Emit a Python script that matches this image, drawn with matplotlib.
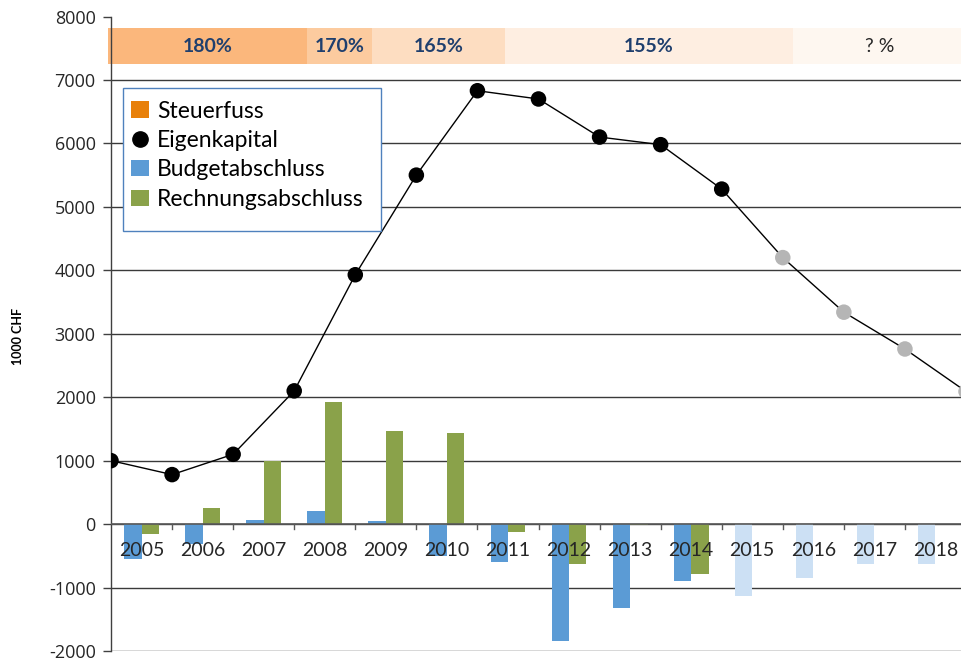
import matplotlib
matplotlib.use("Agg")
import matplotlib.pyplot as plt
from matplotlib.patches import Patch, Rectangle
from matplotlib.lines import Line2D
import numpy as np

plt.rcParams["axes.unicode_minus"] = False

years = [2005, 2006, 2007, 2008, 2009, 2010, 2011, 2012, 2013, 2014, 2015, 2016, 2017, 2018]
budget = [-550, -320, 60, 200, 50, -500, -600, -1850, -1330, -900, -1130, -850, -630, -630]
rechnung = [-160, 250, 1000, 1920, 1470, 1440, -130, -630, -15, -790, np.nan, np.nan, np.nan, np.nan]
forecast = [False]*10 + [True]*4
eigenkapital = [1000, 780, 1100, 2100, 3930, 5500, 6830, 6700, 6100, 5980, 5280, 4200, 3340, 2760, 2090]
ek_forecast = [False]*11 + [True]*4
steuer_labels = ["180%", "170%", "165%", "155%", "? %"]
steuer_spans = [3.21, 1.07, 2.17, 4.71, 2.84]

c_budget = "#5B9BD5"
c_budget_fc = "#CCE0F4"
c_rech = "#8AA24A"
c_steuer = "#E8800A"
band_colors = ["#FBB77C", "#FCCB9F", "#FDDDC1", "#FEEEE1", "#FEF7F0"]
band_text = ["#1F3F6E", "#1F3F6E", "#1F3F6E", "#1F3F6E", "#262626"]
band_weight = ["bold", "bold", "bold", "bold", "normal"]

W, H = 961, 660
fig = plt.figure(figsize=(W/100, H/100), dpi=100)
left_px, right_px = 111, 966
top_px, bot_px = 16.5, 651
ax = fig.add_axes([left_px/W, (H-bot_px)/H, (right_px-left_px)/W, (bot_px-top_px)/H])

n = len(years)
ax.set_xlim(0, n)
ax.set_ylim(-2000, 8000)

for v in range(-2000, 8000, 1000):
    ax.axhline(v, color="#3a3a3a", lw=1.0, zorder=1)

centers = np.arange(n) + 0.5
bw = 0.285
bcols = [c_budget_fc if f else c_budget for f in forecast]
ax.bar(centers - bw/2, budget, width=bw, color=bcols, zorder=2)
ax.bar(centers + bw/2, rechnung, width=bw, color=c_rech, zorder=2)

# tax band
spans = list(steuer_spans)
lefts = np.concatenate([[0.0], np.cumsum(steuer_spans)[:-1]])
spans[0] += 0.05
lefts[0] = -0.05
ax.barh(7535, spans, left=lefts, height=570, color=band_colors, zorder=2, clip_on=False)
for l, s, lab, tc, fw in zip(lefts, spans, steuer_labels, band_text, band_weight):
    ax.text(l + s/2, 7535, lab, ha="center", va="center", fontsize=14,
            fontweight=fw, color=tc, family="Lato", zorder=5)

# Eigenkapital line
xb = np.arange(len(eigenkapital))
ax.plot(xb, eigenkapital, color="black", lw=1.0, zorder=3)
mcol = ["#B5B5B5" if f else "black" for f in ek_forecast]
ax.scatter(xb, eigenkapital, s=125, c=mcol, zorder=4, edgecolors="none")

for sp in ["top", "right", "bottom"]:
    ax.spines[sp].set_visible(False)
ax.spines["left"].set_color("#404040")
ax.spines["left"].set_linewidth(1.0)
ax.set_yticks(range(-2000, 8001, 1000))
ax.tick_params(axis="y", direction="out", length=6, width=1, color="#404040",
               labelsize=13, labelcolor="#262626", pad=5)
for t in ax.get_yticklabels():
    t.set_family("Open Sans")
ax.set_xticks([])
ax.axhline(0, color="#595959", lw=1.2, zorder=3)
for b in range(1, n):
    ax.plot([b, b], [0, -80], color="#595959", lw=1.0, zorder=3, clip_on=False)
for c, y in zip(centers, years):
    ax.text(c, -410, str(y), ha="center", va="center", fontsize=14, family="Lato",
            color="#262626", zorder=6)

fig.text(18/W, 1 - 336/H, "1000 CHF", rotation=90, ha="center", va="center",
         fontsize=9, fontweight="bold", family="Lato", color="black")

# legend frame
frame = Rectangle((123/W, 1 - 231/H), (381-123)/W, (231-88)/H, transform=fig.transFigure,
                  facecolor="white", edgecolor="#4F81BD", lw=1.0, zorder=6, clip_on=False)
ax.add_patch(frame)

handles = [Patch(facecolor=c_steuer, edgecolor="none"),
           Line2D([], [], marker="o", color="black", ls="none", markersize=11),
           Patch(facecolor=c_budget, edgecolor="none"),
           Patch(facecolor=c_rech, edgecolor="none")]
labels = ["Steuerfuss", "Eigenkapital", "Budgetabschluss", "Rechnungsabschluss"]
leg = ax.legend(handles, labels, loc="upper left",
                bbox_to_anchor=(131/W, 1 - 100.5/H), bbox_transform=fig.transFigure,
                frameon=False, prop={"family": "Lato", "size": 16.5},
                handlelength=0.79, handleheight=0.7, handletextpad=0.35, labelspacing=0.37,
                borderpad=0, borderaxespad=0)
leg.set_zorder(7)

fig.savefig("out.png", dpi=100)
